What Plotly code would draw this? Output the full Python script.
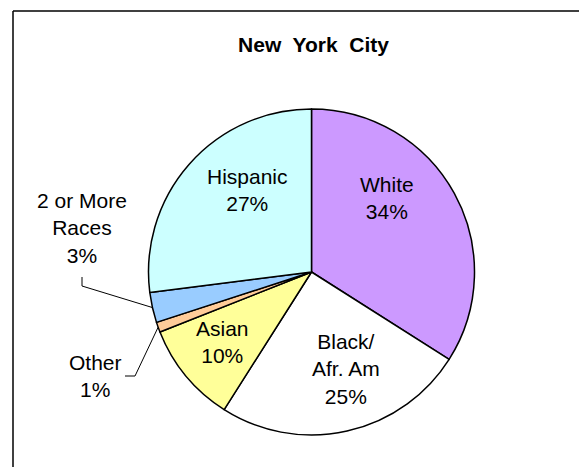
import math
import plotly.graph_objects as go

# slice data, clockwise from 12 o'clock
groups = ["White", "Black/<br>Afr. Am", "Asian", "Other", "2 or More<br>Races", "Hispanic"]
shares = [34, 25, 10, 1, 3, 27]
colors = ["#CC99FF", "#FFFFFF", "#FFFF99", "#FFCC99", "#99CCFF", "#CCFFFF"]

# label centres (px) and leader-line elbows for the outside labels
label_xy = [(387, 198), (346, 369), (222, 342), (95, 376), (82, 228), (247, 190)]
elbows = {3: [(135, 376), (125, 376)], 4: [(82, 286), (82, 277)]}

W, H = 587, 467
OFF = 8  # page body margin
cx, cy, r = 311.5 - OFF, 272 - OFF, 163
FONT = "Liberation Sans, Arial, sans-serif"


def px(x, y):
    return (x - OFF) / W, 1 - (y - OFF) / H


fig = go.Figure(go.Pie(
    labels=groups, values=shares, sort=False, direction="clockwise", rotation=0,
    marker=dict(colors=colors, line=dict(color="black", width=1.5)),
    textinfo="none", showlegend=False, hoverinfo="label+percent",
    domain=dict(x=[(cx - r) / W, (cx + r) / W],
                y=[(H - cy - r) / H, (H - cy + r) / H]),
))

total = sum(shares)
annotations, shapes = [], []
cum = 0
for i, (g, v) in enumerate(zip(groups, shares)):
    mid = (cum + v / 2) / total * 2 * math.pi
    cum += v
    x, y = px(*label_xy[i])
    annotations.append(dict(text=f"{g}<br>{round(100 * v / total)}%", x=x, y=y,
                            xref="paper", yref="paper", showarrow=False,
                            xanchor="center", yanchor="middle", align="center",
                            font=dict(family=FONT, size=21, color="black")))
    if i in elbows:
        ex, ey = cx + r * math.sin(mid), cy - r * math.cos(mid)
        pts = [(ex / W, 1 - ey / H)] + [px(*p) for p in elbows[i]]
        path = "M " + " L ".join(f"{a},{b}" for a, b in pts)
        shapes.append(dict(type="path", path=path, xref="paper", yref="paper",
                           line=dict(color="black", width=1)))

# chart frame (left and top edges visible)
shapes += [
    dict(type="line", xref="paper", yref="paper", x0=5 / W, x1=5 / W,
         y0=-0.05, y1=1 - 3 / H, line=dict(color="black", width=1.5)),
    dict(type="line", xref="paper", yref="paper", x0=5 / W, x1=1.05,
         y0=1 - 3 / H, y1=1 - 3 / H, line=dict(color="black", width=1.5)),
]

fig.update_layout(
    width=W, height=H, margin=dict(l=0, r=0, t=0, b=0),
    paper_bgcolor="white",
    title=dict(text="<b>New  York  City</b>", x=(313.5 - OFF) / W, xanchor="center",
               y=1 - (45 - OFF) / H, yanchor="middle", yref="container",
               font=dict(family=FONT, size=21, color="black")),
    annotations=annotations,
    shapes=shapes,
)

fig.write_html("out.html")
